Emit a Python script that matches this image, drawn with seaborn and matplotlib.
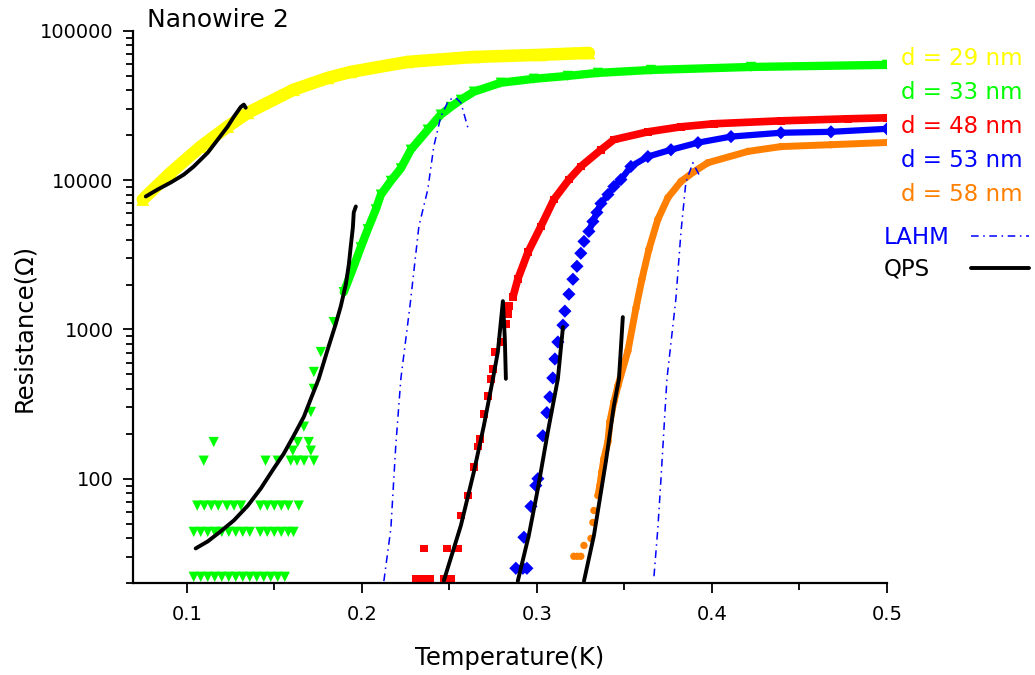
# resistance vs temperature of nanowire 2, with LAHM and QPS fits
from matplotlib import pyplot as plt
from matplotlib.lines import Line2D
from matplotlib.ticker import MultipleLocator, LogLocator, NullFormatter
import seaborn as sns

# ---- data (T in K, R in Ohm) ----
# d = 29 nm
yellow_t = [0.0749, 0.0909, 0.108, 0.1234, 0.1349, 0.161, 0.1806, 0.1937, 0.2263, 0.264, 0.302, 0.3297]
yellow_r = [7430, 11250, 16800, 22900, 28300, 40400, 48500, 53200, 62100, 67000, 69200, 71300]

# d = 33 nm, dense part and scattered low-R points
green_t = [0.1897, 0.1954, 0.1994, 0.2034, 0.208, 0.2109, 0.2166, 0.2223, 0.228, 0.2377, 0.2451,
           0.2509, 0.2566, 0.264, 0.2794, 0.2983, 0.3177, 0.3349, 0.3651, 0.4223, 0.5]
green_r = [1778, 2653, 3550, 4690, 6370, 8000, 9900, 12000, 16000, 21800, 27500,
           31000, 34600, 39200, 45000, 47800, 50000, 52400, 54800, 57400, 59300]
green_pts_t = [0.104, 0.108, 0.112, 0.116, 0.12, 0.124, 0.128, 0.132, 0.136, 0.14, 0.144, 0.148, 0.152, 0.156,
               0.104, 0.108, 0.112, 0.116, 0.12, 0.124, 0.128, 0.132, 0.136, 0.142, 0.146, 0.15, 0.154, 0.158, 0.161,
               0.106, 0.11, 0.114, 0.118, 0.123, 0.127, 0.131, 0.142, 0.146, 0.15, 0.154, 0.158, 0.164,
               0.1097, 0.145, 0.152, 0.1594, 0.163, 0.167, 0.1726,
               0.1606, 0.1709,
               0.1154, 0.1634, 0.1697,
               0.1669, 0.1709, 0.1726, 0.1726, 0.1766, 0.184]
green_pts_r = [22, 22, 22, 22, 22, 22, 22, 22, 22, 22, 22, 22, 22, 22,
               44, 44, 44, 44, 44, 44, 44, 44, 44, 44, 44, 44, 44, 44, 44,
               66, 66, 66, 66, 66, 66, 66, 66, 66, 66, 66, 66, 66,
               132, 132, 132, 132, 132, 132, 132,
               154, 154,
               176, 176, 176,
               223, 280, 400, 519, 706, 1120]

# d = 48 nm
red_t = [0.2863, 0.2891, 0.2949, 0.3023, 0.3097, 0.3183, 0.3251, 0.3366, 0.344, 0.3634,
         0.3823, 0.4011, 0.4394, 0.4777, 0.5]
red_r = [1645, 2170, 3290, 4910, 7430, 10100, 12360, 16000, 18700, 21100,
         22800, 23900, 25000, 25800, 26200]
red_pts_t = [0.2309, 0.2343, 0.2389, 0.2469, 0.2509, 0.2354, 0.2486, 0.2549,
             0.2566, 0.2606, 0.264, 0.2663, 0.2674, 0.2697, 0.272, 0.2737, 0.2749,
             0.276, 0.2794, 0.2823, 0.2834, 0.284]
red_pts_r = [21.5, 21.5, 21.5, 21.5, 21.5, 34, 34, 34,
             56.7, 77.2, 120, 164, 185, 272, 359, 467, 543,
             706, 824, 1087, 1268, 1432]

# d = 53 nm
blue_t = [0.3297, 0.332, 0.3343, 0.3366, 0.3406, 0.344, 0.348, 0.3537, 0.3634, 0.3766,
          0.392, 0.4109, 0.4394, 0.468, 0.5]
blue_r = [4540, 5290, 6080, 6980, 8020, 9080, 10100, 12360, 14400, 16000,
          17850, 19600, 20800, 21100, 22100]
blue_pts_t = [0.288, 0.292, 0.2943, 0.2926, 0.2966, 0.2994, 0.3006, 0.3034, 0.3057, 0.3074,
              0.3091, 0.3103, 0.312, 0.3149, 0.316, 0.3183, 0.3206, 0.3229, 0.3251, 0.3269]
blue_pts_r = [25.1, 25.1, 25.1, 40.5, 65.2, 90, 100, 194, 277, 353,
              473, 634, 824, 1069, 1327, 1723, 2170, 2650, 3240, 3890]

# d = 58 nm
orange_t = [0.3349, 0.336, 0.3371, 0.3383, 0.3406, 0.3417, 0.344, 0.3463, 0.352, 0.3566,
            0.36, 0.364, 0.3691, 0.3749, 0.3823, 0.3897, 0.3977, 0.4206, 0.4394, 0.468, 0.5]
orange_r = [77.1, 90, 111, 136, 177, 241, 327, 419, 718, 1390,
            2170, 3440, 5460, 7660, 9800, 11400, 13100, 15600, 16800, 17300, 17900]
orange_pts_t = [0.3211, 0.3231, 0.3251, 0.3269, 0.3309, 0.332, 0.3326]
orange_pts_r = [30.2, 30.2, 30.2, 35.7, 39.8, 50.9, 61.2]

# LAHM fits
lahm1_t = [0.2126, 0.2166, 0.2194, 0.2223, 0.2277, 0.2326, 0.2377, 0.2411, 0.2451, 0.2497,
           0.2537, 0.2566, 0.2606]
lahm1_r = [20.6, 46.4, 166, 467, 1500, 4910, 8670, 16800, 26600, 34600,
           35700, 33000, 22500]
lahm2_t = [0.3669, 0.3691, 0.3709, 0.3726, 0.3743, 0.3794, 0.3823, 0.3851, 0.3891, 0.3926]
lahm2_r = [22.2, 46.4, 100, 216, 467, 1600, 4480, 9660, 13100, 10900]

# QPS fits
qps1_t = [0.0766, 0.0834, 0.0909, 0.0983, 0.104, 0.112, 0.1177, 0.1234, 0.1269, 0.1309, 0.1326, 0.1337]
qps1_r = [7780, 8670, 9660, 10900, 12360, 15300, 18700, 22900, 26600, 31000, 32100, 30600]
qps2_t = [0.1051, 0.112, 0.1194, 0.1269, 0.1349, 0.1423, 0.1497, 0.1554, 0.1611, 0.1669, 0.1709,
          0.1754, 0.1806, 0.1851, 0.188, 0.1909, 0.1926, 0.1937, 0.1949, 0.1954, 0.1966]
qps2_r = [34.1, 38, 44.4, 52.5, 66, 86, 117, 147, 194, 260, 343,
          467, 740, 1087, 1432, 2010, 2730, 3610, 4830, 6080, 6670]
qps3_t = [0.2469, 0.2566, 0.264, 0.2697, 0.2749, 0.2777, 0.2806, 0.2817, 0.2823]
qps3_r = [20.8, 48.6, 111, 226, 467, 706, 1548, 863, 467]
qps4_t = [0.2891, 0.2954, 0.3006, 0.3063, 0.312, 0.3149]
qps4_r = [20.6, 41.7, 86, 207, 467, 1038]
qps5_t = [0.3269, 0.3326, 0.3394, 0.344, 0.3469, 0.3491]
qps5_r = [20.6, 41.7, 130, 308, 467, 1210]

labels = ['d = 29 nm', 'd = 33 nm', 'd = 48 nm', 'd = 53 nm', 'd = 58 nm']
colors = ['#ffff00', '#00ff00', '#ff0000', '#0000ff', '#ff8000']
y_ticks = [100, 1000, 10000, 100000]
y_tick_labels = ['100', '1000', '10000', '100000']
x_ticks = [0.1, 0.2, 0.3, 0.4, 0.5]
x_tick_labels = ['0.1', '0.2', '0.3', '0.4', '0.5']

sns.set_style('ticks')
plt.rcParams['font.family'] = ['DejaVu Sans']
plt.rcParams.update({'text.color': 'black', 'axes.labelcolor': 'black', 'axes.edgecolor': 'black',
                     'xtick.color': 'black', 'ytick.color': 'black'})

fig = plt.figure(figsize=(10.35, 6.75), dpi=100)
ax = fig.add_axes([0.1285, 0.1363, 0.7285, 0.8178])
ax.set_yscale('log')


def band(t, r, color, marker, lw, s):
    sns.lineplot(x=t, y=r, ax=ax, color=color, linewidth=lw, sort=False, estimator=None)
    sns.scatterplot(x=t, y=r, ax=ax, color=color, marker=marker, s=s, edgecolor='none')


def dots(t, r, color, marker, s):
    sns.scatterplot(x=t, y=r, ax=ax, color=color, marker=marker, s=s, edgecolor='none')


band(yellow_t, yellow_r, colors[0], '^', 9, 85)
band(green_t, green_r, colors[1], 'v', 6, 55)
dots(green_pts_t, green_pts_r, colors[1], 'v', 55)
band(red_t, red_r, colors[2], 's', 5.5, 30)
dots(red_pts_t, red_pts_r, colors[2], 's', 30)
band(blue_t, blue_r, colors[3], 'D', 4.5, 45)
dots(blue_pts_t, blue_pts_r, colors[3], 'D', 45)
band(orange_t, orange_r, colors[4], 'o', 5, 28)
dots(orange_pts_t, orange_pts_r, colors[4], 'o', 28)

lahm_ls = (0, (5, 3, 1, 3))
for t, r in [(lahm1_t, lahm1_r), (lahm2_t, lahm2_r)]:
    sns.lineplot(x=t, y=r, ax=ax, color='#0000ff', linewidth=1.1, sort=False, estimator=None,
                 linestyle=lahm_ls)
for t, r in [(qps1_t, qps1_r), (qps2_t, qps2_r), (qps3_t, qps3_r), (qps4_t, qps4_r), (qps5_t, qps5_r)]:
    sns.lineplot(x=t, y=r, ax=ax, color='black', linewidth=2.8, sort=False, estimator=None)

# axes
ax.set_xlim(0.0693, 0.5)
ax.set_ylim(20, 100000)
ax.set_xticks(x_ticks, labels=x_tick_labels)
ax.xaxis.set_minor_locator(MultipleLocator(0.05))
ax.set_yticks(y_ticks, labels=y_tick_labels)
ax.yaxis.set_minor_locator(LogLocator(base=10, subs=range(2, 10)))
ax.yaxis.set_minor_formatter(NullFormatter())
ax.tick_params(which='major', direction='out', length=7, width=1.3, labelsize=14, pad=7)
ax.tick_params(axis='x', which='major', pad=9)
ax.tick_params(which='minor', direction='out', length=5, width=1.3)
for side in ['top', 'right']:
    ax.spines[side].set_visible(False)
for side in ['left', 'bottom']:
    ax.spines[side].set_linewidth(1.6)
ax.set_xlabel('Temperature(K)', fontsize=17.5, labelpad=16)
ax.set_ylabel('Resistance(Ω)', fontsize=17.5)
ax.yaxis.set_label_coords(-0.129, 0.462)
ax.text(0.0186, 1.02, 'Nanowire 2', transform=ax.transAxes, fontsize=18, va='center', ha='left')

# legends: coloured labels, then the two fit lines
blank = [Line2D([], [], linestyle='none') for _ in labels]
leg1 = fig.legend(blank, labels, loc='upper left', bbox_to_anchor=(901 / 1035, 1 - 47 / 675),
                  frameon=False, fontsize=16.5, handlelength=0, handletextpad=0,
                  borderpad=0, borderaxespad=0, labelspacing=0.476, labelcolor=colors)
lahm_handle = Line2D([], [], color='#0000ff', linewidth=1.1, linestyle=lahm_ls)
qps_handle = Line2D([], [], color='black', linewidth=2.8)
fig.legend([lahm_handle], ['LAHM'], loc='upper left', bbox_to_anchor=(884 / 1035, 1 - 226 / 675),
           frameon=False, fontsize=16.5, markerfirst=False, handlelength=2.53, handletextpad=0.92,
           borderpad=0, borderaxespad=0, labelcolor='#0000ff')
fig.legend([qps_handle], ['QPS'], loc='upper left', bbox_to_anchor=(884 / 1035, 1 - 258 / 675),
           frameon=False, fontsize=16.5, markerfirst=False, handlelength=2.53, handletextpad=1.8,
           borderpad=0, borderaxespad=0, labelcolor='black')

fig.savefig('out.png', dpi=100)
